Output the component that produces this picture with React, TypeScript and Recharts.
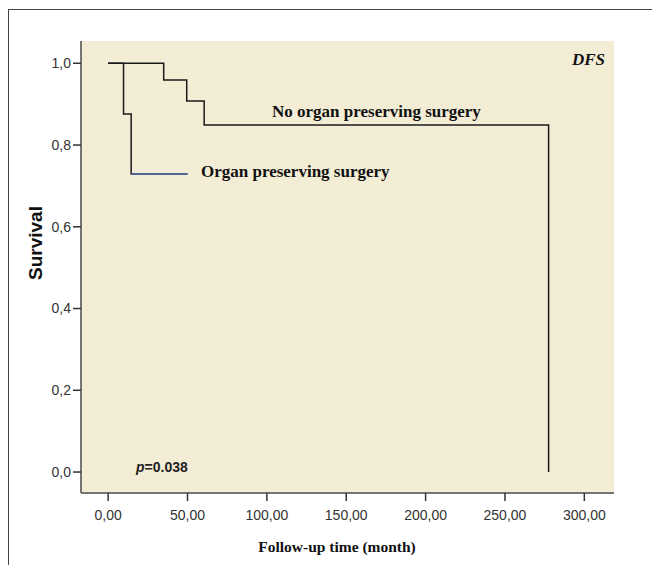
import React from 'react';
import { LineChart, Line, XAxis, YAxis, CartesianGrid } from 'recharts';

const noOrganTime = [0, 35, 49.5, 60.5, 277.5];
const noOrganSurv = [1, 0.959, 0.908, 0.849, 0];
const organTime = [0, 9.7, 14.5, 50];
const organSurv = [1, 0.876, 0.729, 0.729];
const xTicks = [0, 50, 100, 150, 200, 250, 300];
const yTicks = [0, 0.2, 0.4, 0.6, 0.8, 1.0];

const noOrganData = noOrganTime.map((t, i) => ({ t, s: noOrganSurv[i] }));
const organData = organTime.map((t, i) => ({ t, s: organSurv[i] }));
const organTail = organData.slice(2);

const X_DOMAIN: [number, number] = [-17.1, 318.7];
const Y_DOMAIN: [number, number] = [-0.0513, 1.0545];

const sans = '"Liberation Sans", Arial, sans-serif';
const serif = '"Liberation Serif", "Times New Roman", serif';
const frame = { stroke: '#4a4a4a', strokeWidth: 1.5 };

export default function App() {
  return (
    <div style={{ position: 'relative', width: 652, height: 555, marginTop: 2 }}>
      <div style={{ position: 'absolute', left: -1, top: -1, width: 653, height: 1, background: '#444' }} />
      <div style={{ position: 'absolute', left: -1, top: -1, width: 2, height: 556, background: '#444', zIndex: 5 }} />
      <div style={{ position: 'absolute', left: 0, top: 0 }}>
        <LineChart width={652} height={555} margin={{ top: 31, right: 46, bottom: 42, left: 13 }}>
          <CartesianGrid fill="#F3EDD6" fillOpacity={1} horizontal={false} vertical={false} stroke="none" />
          <XAxis
            dataKey="t"
            type="number"
            domain={X_DOMAIN}
            allowDataOverflow
            ticks={xTicks}
            height={30}
            axisLine={frame}
            tickLine={{ stroke: '#333', strokeWidth: 1.5 }}
            tickSize={8}
            tickMargin={9}
            tick={{ fill: '#333', fontSize: 14, fontFamily: sans }}
            tickFormatter={(v: number) => v.toFixed(2).replace('.', ',')}
          />
          <XAxis
            xAxisId="top"
            orientation="top"
            dataKey="t"
            type="number"
            domain={X_DOMAIN}
            allowDataOverflow
            height={0}
            axisLine={frame}
            tick={false}
            tickLine={false}
          />
          <YAxis
            dataKey="s"
            type="number"
            domain={Y_DOMAIN}
            allowDataOverflow
            ticks={yTicks}
            width={60}
            axisLine={frame}
            tickLine={{ stroke: '#333', strokeWidth: 1.5 }}
            tickSize={8}
            tickMargin={2}
            tick={{ fill: '#333', fontSize: 14, fontFamily: sans }}
            tickFormatter={(v: number) => v.toFixed(1).replace('.', ',')}
          />
          <YAxis
            yAxisId="right"
            orientation="right"
            dataKey="s"
            type="number"
            domain={Y_DOMAIN}
            allowDataOverflow
            width={0}
            axisLine={frame}
            tick={false}
            tickLine={false}
          />
          <Line
            data={organData}
            dataKey="s"
            type="stepAfter"
            stroke="#1a1a1a"
            strokeWidth={1.5}
            dot={false}
            isAnimationActive={false}
          />
          <Line
            data={organTail}
            dataKey="s"
            type="linear"
            stroke="#4d6fb0"
            strokeWidth={1.5}
            dot={false}
            isAnimationActive={false}
          />
          <Line
            data={noOrganData}
            dataKey="s"
            type="stepAfter"
            stroke="#1a1a1a"
            strokeWidth={1.5}
            dot={false}
            isAnimationActive={false}
          />
          <text x={264} y={107} fontFamily={serif} fontWeight="bold" fontSize={17} fill="#111">
            No organ preserving surgery
          </text>
          <text x={193} y={167} fontFamily={serif} fontWeight="bold" fontSize={17} fill="#111">
            Organ preserving surgery
          </text>
          <text x={597} y={55} textAnchor="end" fontFamily={serif} fontWeight="bold" fontStyle="italic" fontSize={17} fill="#111">
            DFS
          </text>
          <text x={128} y={462} fontFamily={sans} fontWeight="bold" fontSize={14} fill="#222">
            <tspan fontStyle="italic">p</tspan>=0.038
          </text>
          <text x={329} y={542} textAnchor="middle" fontFamily={serif} fontWeight="bold" fontSize={15.5} fill="#111">
            Follow-up time (month)
          </text>
          <text
            x={27}
            y={233}
            textAnchor="middle"
            dominantBaseline="central"
            transform="rotate(-90 27 233)"
            fontFamily={sans}
            fontWeight="bold"
            fontSize={19}
            fill="#111"
          >
            Survival
          </text>
        </LineChart>
      </div>
    </div>
  );
}
